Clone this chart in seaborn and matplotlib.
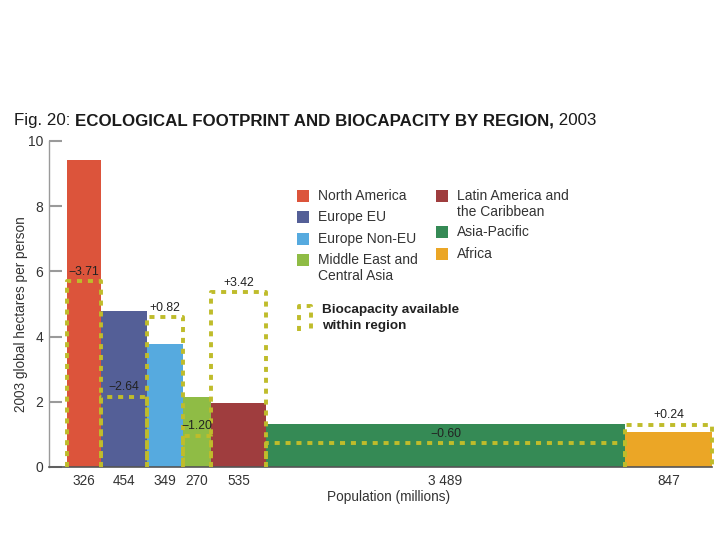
import matplotlib
matplotlib.use("Agg")
import matplotlib.pyplot as plt
import seaborn as sns
import numpy as np
from matplotlib.patches import Rectangle
from matplotlib.lines import Line2D

# data
regions = ["North America", "Europe EU", "Europe Non-EU", "Middle East and\nCentral Asia",
           "Latin America and\nthe Caribbean", "Asia-Pacific", "Africa"]
population = [326, 454, 349, 270, 535, 3489, 847]
pop_labels = ["326", "454", "349", "270", "535", "3 489", "847"]
footprint = [9.42, 4.80, 3.77, 2.16, 1.95, 1.33, 1.06]
balance = [-3.71, -2.64, 0.82, -1.20, 3.42, -0.60, 0.24]
balance_labels = ["\u22123.71", "\u22122.64", "+0.82", "\u22121.20", "+3.42", "\u22120.60", "+0.24"]
colors = ["#dc543b", "#545f97", "#56aadf", "#8fbc45", "#9f3d3e", "#358a55", "#eba626"]
bio_color = "#bfbc2b"

sns.set_style("white")
plt.rcParams['font.family'] = ['Liberation Sans', 'DejaVu Sans']

offset = 175  # empty space before the first bar, in millions
lefts = offset + np.concatenate([[0], np.cumsum(population)[:-1]])
widths = np.array(population)
centers = lefts + widths / 2
biocap = np.array(footprint) + np.array(balance)

fig = plt.figure(figsize=(7.2, 5.4), dpi=100)
ax = fig.add_axes([49/720, 1 - 467/540, (712 - 49)/720, (467 - 141)/540])

ax.bar(lefts, footprint, width=widths, align='edge', color=colors, linewidth=0)

dash = (0, (1.3, 1.5))
for l, w, b, c, lab in zip(lefts, widths, biocap, centers, balance_labels):
    ax.plot([l, l, l + w, l + w], [0, b, b, 0], color=bio_color, lw=2.8,
            linestyle=dash, dash_capstyle='butt', clip_on=False, zorder=3)
    ax.text(c, b + 0.1, lab, ha='center', va='bottom', fontsize=8.8, color='#222', zorder=4)

ax.set_xlim(0, offset + sum(population))
ax.set_ylim(0, 10)
ax.set_yticks([0, 2, 4, 6, 8, 10])
ax.set_xticks(centers, pop_labels)
ax.tick_params(axis='y', direction='in', length=9, width=1.5, color='#9a9a9a',
               labelsize=10, labelcolor='#333', pad=4, left=True)
ax.tick_params(axis='x', length=0, labelsize=9.8, labelcolor='#333', pad=5)
for s in ['top', 'right']:
    ax.spines[s].set_visible(False)
ax.spines['left'].set_color('#9a9a9a')
ax.spines['left'].set_linewidth(1)
ax.spines['bottom'].set_color('#555')
ax.spines['bottom'].set_linewidth(1.2)
ax.set_xlabel("Population (millions)", fontsize=9.8, color='#333')
ax.set_ylabel("2003 global hectares per person", fontsize=9.8, color='#333')
ax.xaxis.set_label_coords((389 - 49) / 663, -(497 - 467) / 326, transform=ax.transAxes)
ax.yaxis.set_label_coords(-(49 - 21) / 663, (467 - 314) / 326, transform=ax.transAxes)
ax.xaxis.label.set_va('center')
ax.yaxis.label.set_va('center')

# title in three parts: normal / bold / normal
renderer = fig.canvas.get_renderer()
x = 14 / 720
ty = 1 - 125 / 540
for part, weight in [("Fig. 20: ", "normal"),
                     ("ECOLOGICAL FOOTPRINT AND BIOCAPACITY BY REGION,", "bold"),
                     (" 2003", "normal")]:
    t = fig.text(x, ty, part, fontsize=12.2, fontweight=weight, color='#1a1a1a', va='baseline')
    bb = t.get_window_extent(renderer)
    x = bb.x1 / fig.bbox.width

# legend drawn by hand
col_items = [[0, 1, 2, 3], [4, 5, 6]]
col_x = [297, 436]
row_y = [[196, 217, 239, 260], [196, 232, 254]]
for items, cx, ys in zip(col_items, col_x, row_y):
    for i, yy in zip(items, ys):
        fig.patches.append(Rectangle((cx / 720, 1 - (yy + 6) / 540), 12 / 720, 12 / 540,
                                     transform=fig.transFigure, color=colors[i], lw=0))
        fig.text((cx + 21) / 720, 1 - (yy - 7.5) / 540, regions[i], fontsize=10, color='#333',
                 va='top', linespacing=1.22)

fig.lines.append(Line2D([299 / 720, 299 / 720, 311 / 720, 311 / 720],
                        [1 - 331 / 540, 1 - 306 / 540, 1 - 306 / 540, 1 - 331 / 540],
                        transform=fig.transFigure, color=bio_color, lw=2.8,
                        linestyle=dash, dash_capstyle='butt'))
fig.text(322 / 720, 1 - 304.5 / 540, "Biocapacity available\nwithin region", fontsize=9.7,
         fontweight='bold', color='#222', va='top', linespacing=1.38)

fig.savefig("out.png", dpi=100)
